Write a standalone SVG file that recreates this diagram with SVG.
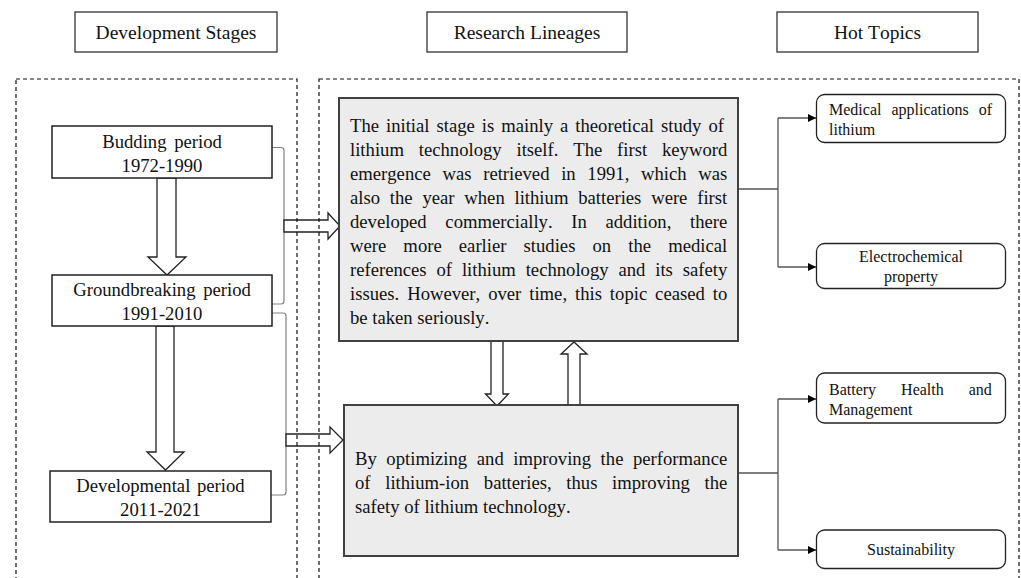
<svg xmlns="http://www.w3.org/2000/svg" width="1021" height="578" viewBox="0 0 1021 578">
<defs>
<style>
text{font-family:"Liberation Serif","Times New Roman",serif;fill:#111;font-kerning:none}
.hdr{fill:#fff;stroke:#333;stroke-width:1.3}
.hdrt{font-size:19.5px;text-anchor:middle}
.stage{fill:#fff;stroke:#222;stroke-width:1.5}
.stt{font-size:18.67px;text-anchor:middle}
.res{fill:#ececec;stroke:#404040;stroke-width:2}
.rt{font-size:18.67px}
.topic{fill:#fff;stroke:#222;stroke-width:1.3}
.tt{font-size:16px}
.dash{fill:none;stroke:#111;stroke-width:1.2;stroke-dasharray:4 3}
.hollow{fill:#fff;stroke:#222;stroke-width:1.3}
.br{fill:none;stroke:#808080;stroke-width:1.2}
.conn{fill:none;stroke:#555;stroke-width:1.3}
</style>
<marker id="ah" markerUnits="userSpaceOnUse" markerWidth="9" markerHeight="9" refX="8" refY="4" orient="auto">
<path d="M0,0 L8,4 L0,8 z" fill="#000"/>
</marker>
</defs>
<rect width="1021" height="578" fill="#fff"/>

<g id="headers">
<g id="hdr-stages"><rect class="hdr" x="75" y="12" width="202" height="40"/><text class="hdrt" x="176" y="38.5">Development Stages</text></g>
<g id="hdr-lineages"><rect class="hdr" x="427" y="12" width="200" height="40"/><text class="hdrt" x="527" y="38.5">Research Lineages</text></g>
<g id="hdr-topics"><rect class="hdr" x="777" y="12" width="201" height="40"/><text class="hdrt" x="877.5" y="38.5">Hot Topics</text></g>
</g>

<g id="connectors">
<polygon class="hollow" points="157,178 176,178 176,257 186,257 167,275 148,257 157,257"/>
<polygon class="hollow" points="156,326 174,326 174,452 184,452 165.5,470 147,452 156,452"/>
<path class="br" d="M272,147.5 H281 Q284,147.5 284,150.5 V301 Q284,304 281,304 H272"/>
<path class="br" d="M272,313 H283 Q286,313 286,316 V492 Q286,495 283,495 H271"/>
<polygon class="hollow" points="284,220 328,220 328,213 340,226 328,239 328,232 284,232"/>
<polygon class="hollow" points="286,434 330,434 330,427 343,440 330,453 330,446 286,446"/>
<polygon class="hollow" points="491,341 503,341 503,394 508.5,394 497,406 485.5,394 491,394"/>
<polygon class="hollow" points="568,405 580,405 580,354 587,354 574,342 561,354 568,354"/>
<path class="conn" d="M738,189 H778 M778,118 V267 M738,473 H778 M778,399 V550"/>
<path class="conn" d="M778,118 H816" marker-end="url(#ah)"/>
<path class="conn" d="M778,267 H816" marker-end="url(#ah)"/>
<path class="conn" d="M778,399 H816" marker-end="url(#ah)"/>
<path class="conn" d="M778,550 H816" marker-end="url(#ah)"/>
</g>

<g id="frames">
<rect class="dash" x="16" y="79" width="281" height="530"/>
<rect class="dash" x="319" y="79" width="700" height="530"/>
</g>

<g id="stage-budding"><rect class="stage" x="52" y="126" width="220" height="52"/>
<text class="stt" x="162" y="147.5" word-spacing="3">Budding period</text>
<text class="stt" x="162" y="171.5">1972-1990</text></g>
<g id="stage-groundbreaking"><rect class="stage" x="52" y="275" width="220" height="51"/>
<text class="stt" x="162" y="295.5" word-spacing="3">Groundbreaking period</text>
<text class="stt" x="162" y="319.5">1991-2010</text></g>
<g id="stage-developmental"><rect class="stage" x="50" y="471" width="221" height="51"/>
<text class="stt" x="160.5" y="491.5" word-spacing="2">Developmental period</text>
<text class="stt" x="160.5" y="515.5">2011-2021</text></g>

<g id="lineage-1"><rect class="res" x="339" y="98" width="399" height="243"/>
<text class="rt" x="350" y="131.5" word-spacing="2.32">The initial stage is mainly a theoretical study of</text>
<text class="rt" x="350" y="155.5" word-spacing="10.17">lithium technology itself. The first keyword</text>
<text class="rt" x="350" y="179.5" word-spacing="7.02">emergence was retrieved in 1991, which was</text>
<text class="rt" x="350" y="203.5" word-spacing="5.12">also the year when lithium batteries were first</text>
<text class="rt" x="350" y="227.5" word-spacing="14.02">developed commercially. In addition, there</text>
<text class="rt" x="350" y="251.5" word-spacing="12.46">were more earlier studies on the medical</text>
<text class="rt" x="350" y="275.5" word-spacing="5.2">references of lithium technology and its safety</text>
<text class="rt" x="350" y="299.5" word-spacing="3.27">issues. However, over time, this topic ceased to</text>
<text class="rt" x="350" y="323.5">be taken seriously.</text></g>

<g id="lineage-2"><rect class="res" x="344" y="405" width="394" height="151"/>
<text class="rt" x="355" y="465" word-spacing="4.92">By optimizing and improving the performance</text>
<text class="rt" x="355" y="489" word-spacing="9.99">of lithium-ion batteries, thus improving the</text>
<text class="rt" x="355" y="513">safety of lithium technology.</text></g>

<g id="topic-medical"><rect class="topic" x="816.5" y="94.5" width="189" height="48" rx="8"/>
<text class="tt" x="829" y="114.5" word-spacing="6">Medical applications of</text>
<text class="tt" x="829" y="135">lithium</text></g>
<g id="topic-electro"><rect class="topic" x="816.5" y="243.5" width="189" height="45" rx="8"/>
<text class="tt" x="911" y="262" text-anchor="middle">Electrochemical</text>
<text class="tt" x="911" y="282" text-anchor="middle">property</text></g>
<g id="topic-battery"><rect class="topic" x="816.5" y="373" width="189" height="50" rx="8"/>
<text class="tt" x="829" y="394.5" word-spacing="21">Battery Health and</text>
<text class="tt" x="829" y="414.5">Management</text></g>
<g id="topic-sustain"><rect class="topic" x="816.5" y="530" width="189" height="38.5" rx="8"/>
<text class="tt" x="911" y="555" text-anchor="middle">Sustainability</text></g>
</svg>
